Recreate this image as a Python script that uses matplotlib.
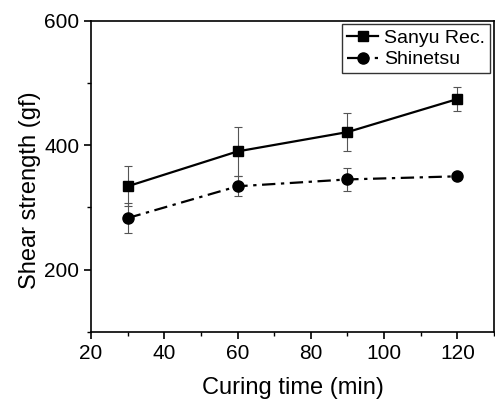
import matplotlib
matplotlib.use("Agg")
import matplotlib.pyplot as plt
from matplotlib.ticker import MultipleLocator

plt.rcParams['font.family'] = ['Liberation Sans', 'DejaVu Sans']

# 固化时间与剪切强度
curing_time = [30, 60, 90, 120]
sanyu = [334, 390, 421, 474]
sanyu_err = [32, 39, 30, 19]
shinetsu = [283, 334, 345, 350]
shinetsu_err = [24, 16, 18, 5]

fig = plt.figure(figsize=(4.95, 4.03), dpi=100)
ax = fig.add_axes([0.184, 0.176, 0.814, 0.773])

# 误差棒（不进图例）
ax.errorbar(curing_time, sanyu, yerr=sanyu_err, fmt='none', ecolor='#555555',
            elinewidth=0.8, capsize=3, capthick=0.8)
ax.errorbar(curing_time, shinetsu, yerr=shinetsu_err, fmt='none', ecolor='#555555',
            elinewidth=0.8, capsize=3, capthick=0.8)

ax.plot(curing_time, sanyu, color='black', marker='s', markersize=7.5,
        linewidth=1.6, label='Sanyu Rec.')
ax.plot(curing_time, shinetsu, color='black', marker='o', markersize=8,
        linewidth=1.6, linestyle=(0, (6, 2.5, 1.5, 2.5)), label='Shinetsu')

ax.set_xlim(20, 130)
ax.set_ylim(100, 600)
ax.xaxis.set_major_locator(MultipleLocator(20))
ax.xaxis.set_minor_locator(MultipleLocator(10))
ax.yaxis.set_major_locator(MultipleLocator(200))
ax.yaxis.set_minor_locator(MultipleLocator(100))
ax.tick_params(which='major', direction='out', length=5, width=1.2, labelsize=15)
ax.tick_params(which='minor', direction='out', length=3, width=1)
ax.tick_params(top=False, right=False)
for s in ax.spines.values():
    s.set_linewidth(1.2)

ax.set_xlabel('Curing time (min)', fontsize=17, labelpad=10)
ax.set_ylabel('Shear strength (gf)', fontsize=17, labelpad=2)
ax.yaxis.label.set_y(0.455)

leg = ax.legend(loc='upper right', fontsize=14, frameon=True, fancybox=False,
                edgecolor='black', handlelength=1.6, handletextpad=0.3,
                borderpad=0.25, labelspacing=0.2, borderaxespad=0.2)
leg.get_frame().set_linewidth(1.0)

fig.savefig('out.png', dpi=100)
